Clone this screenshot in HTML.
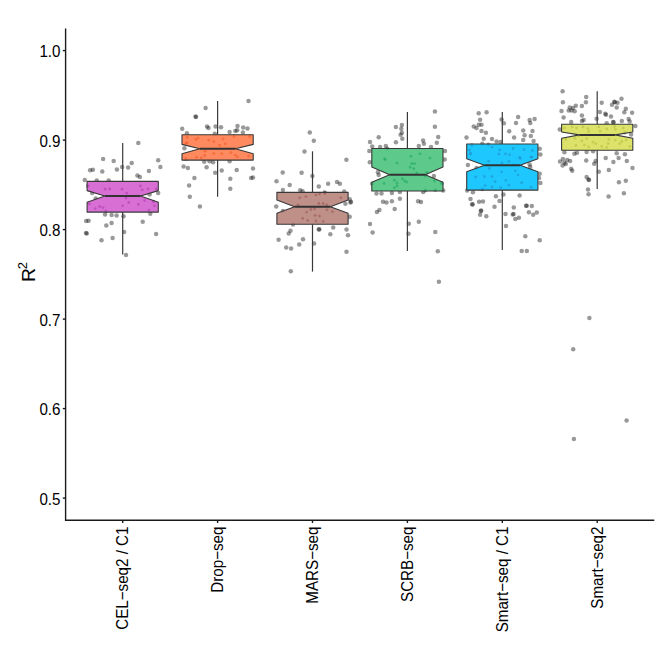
<!DOCTYPE html>
<html><head><meta charset="utf-8"><style>
html,body{margin:0;padding:0;background:#fff;width:662px;height:647px;overflow:hidden}
svg{display:block}
text{font-family:"Liberation Sans",sans-serif;fill:#000}
.yt{font-size:15.8px}
.xt{font-size:16.5px}
.ax{stroke:#1a1a1a;stroke-width:1.4}
.w{stroke:#3a3a3a;stroke-width:1.2}
.bx{stroke:#383838;stroke-width:1.1;stroke-linejoin:round}
.md{stroke:#333;stroke-width:2.0}
.dots circle{fill:#000;fill-opacity:0.40}
</style></head><body>
<svg width="662" height="647" viewBox="0 0 662 647">
<g class="dots">
<circle cx="138.3" cy="142.9" r="2.25"/>
<circle cx="103.1" cy="159.1" r="2.25"/>
<circle cx="113.7" cy="161.1" r="2.25"/>
<circle cx="131.7" cy="163.0" r="2.25"/>
<circle cx="158.2" cy="160.3" r="2.25"/>
<circle cx="160.4" cy="166.9" r="2.25"/>
<circle cx="90.1" cy="170.2" r="2.25"/>
<circle cx="92.9" cy="169.7" r="2.25"/>
<circle cx="102.3" cy="171.5" r="2.25"/>
<circle cx="116.9" cy="169.4" r="2.25"/>
<circle cx="122.1" cy="167.1" r="2.25"/>
<circle cx="128.1" cy="167.4" r="2.25"/>
<circle cx="148.9" cy="170.9" r="2.25"/>
<circle cx="137.4" cy="175.6" r="2.25"/>
<circle cx="139.9" cy="177.0" r="2.25"/>
<circle cx="84.8" cy="180.1" r="2.25"/>
<circle cx="96.8" cy="180.6" r="2.25"/>
<circle cx="108.7" cy="180.6" r="2.25"/>
<circle cx="92.2" cy="193.1" r="2.25"/>
<circle cx="158.2" cy="193.1" r="2.25"/>
<circle cx="149.6" cy="194.6" r="2.25"/>
<circle cx="88.2" cy="186.0" r="2.25"/>
<circle cx="105.1" cy="189.2" r="2.25"/>
<circle cx="109.7" cy="189.0" r="2.25"/>
<circle cx="122.1" cy="189.2" r="2.25"/>
<circle cx="140.3" cy="186.0" r="2.25"/>
<circle cx="142.2" cy="189.8" r="2.25"/>
<circle cx="147.9" cy="188.8" r="2.25"/>
<circle cx="156.1" cy="188.8" r="2.25"/>
<circle cx="126.7" cy="193.1" r="2.25"/>
<circle cx="126.0" cy="198.1" r="2.25"/>
<circle cx="105.1" cy="214.4" r="2.25"/>
<circle cx="111.6" cy="215.1" r="2.25"/>
<circle cx="116.6" cy="215.4" r="2.25"/>
<circle cx="123.5" cy="216.2" r="2.25"/>
<circle cx="150.3" cy="213.7" r="2.25"/>
<circle cx="86.2" cy="221.1" r="2.25"/>
<circle cx="88.6" cy="220.8" r="2.25"/>
<circle cx="106.3" cy="225.4" r="2.25"/>
<circle cx="111.6" cy="223.0" r="2.25"/>
<circle cx="142.7" cy="221.7" r="2.25"/>
<circle cx="86.8" cy="233.5" r="2.25"/>
<circle cx="86.0" cy="233.0" r="2.25"/>
<circle cx="124.1" cy="232.0" r="2.25"/>
<circle cx="156.1" cy="234.0" r="2.25"/>
<circle cx="101.5" cy="240.2" r="2.25"/>
<circle cx="112.6" cy="238.1" r="2.25"/>
<circle cx="126.0" cy="255.0" r="2.25"/>
<circle cx="89.4" cy="203.9" r="2.25"/>
<circle cx="95.1" cy="208.6" r="2.25"/>
<circle cx="99.7" cy="206.5" r="2.25"/>
<circle cx="103.0" cy="207.6" r="2.25"/>
<circle cx="105.9" cy="210.8" r="2.25"/>
<circle cx="122.6" cy="205.8" r="2.25"/>
<circle cx="128.8" cy="202.5" r="2.25"/>
<circle cx="138.4" cy="204.3" r="2.25"/>
<circle cx="144.6" cy="200.5" r="2.25"/>
<circle cx="153.2" cy="201.9" r="2.25"/>
<circle cx="154.6" cy="205.8" r="2.25"/>
<circle cx="148.9" cy="210.1" r="2.25"/>
<circle cx="95.7" cy="198.4" r="2.25"/>
<circle cx="248.5" cy="101.1" r="2.25"/>
<circle cx="205.6" cy="107.9" r="2.25"/>
<circle cx="195.5" cy="116.5" r="2.25"/>
<circle cx="196.0" cy="117.0" r="2.25"/>
<circle cx="182.2" cy="128.7" r="2.25"/>
<circle cx="207.0" cy="126.6" r="2.25"/>
<circle cx="208.5" cy="128.0" r="2.25"/>
<circle cx="215.6" cy="126.6" r="2.25"/>
<circle cx="221.0" cy="127.3" r="2.25"/>
<circle cx="237.5" cy="125.9" r="2.25"/>
<circle cx="243.2" cy="127.6" r="2.25"/>
<circle cx="247.5" cy="128.5" r="2.25"/>
<circle cx="229.6" cy="131.9" r="2.25"/>
<circle cx="235.3" cy="130.9" r="2.25"/>
<circle cx="237.2" cy="130.2" r="2.25"/>
<circle cx="242.9" cy="132.5" r="2.25"/>
<circle cx="186.9" cy="133.3" r="2.25"/>
<circle cx="214.8" cy="133.8" r="2.25"/>
<circle cx="184.4" cy="148.3" r="2.25"/>
<circle cx="187.2" cy="137.4" r="2.25"/>
<circle cx="198.0" cy="138.1" r="2.25"/>
<circle cx="195.8" cy="139.5" r="2.25"/>
<circle cx="208.7" cy="140.2" r="2.25"/>
<circle cx="213.8" cy="141.7" r="2.25"/>
<circle cx="223.1" cy="138.8" r="2.25"/>
<circle cx="233.9" cy="136.6" r="2.25"/>
<circle cx="249.7" cy="136.6" r="2.25"/>
<circle cx="219.5" cy="145.3" r="2.25"/>
<circle cx="225.3" cy="143.8" r="2.25"/>
<circle cx="185.8" cy="143.1" r="2.25"/>
<circle cx="204.2" cy="161.8" r="2.25"/>
<circle cx="209.5" cy="161.2" r="2.25"/>
<circle cx="213.1" cy="162.2" r="2.25"/>
<circle cx="229.6" cy="161.2" r="2.25"/>
<circle cx="183.6" cy="166.5" r="2.25"/>
<circle cx="187.9" cy="168.0" r="2.25"/>
<circle cx="206.6" cy="167.3" r="2.25"/>
<circle cx="221.7" cy="170.4" r="2.25"/>
<circle cx="236.7" cy="170.1" r="2.25"/>
<circle cx="253.0" cy="168.4" r="2.25"/>
<circle cx="215.2" cy="172.7" r="2.25"/>
<circle cx="194.4" cy="178.0" r="2.25"/>
<circle cx="230.3" cy="178.7" r="2.25"/>
<circle cx="251.1" cy="178.0" r="2.25"/>
<circle cx="253.0" cy="177.6" r="2.25"/>
<circle cx="189.1" cy="185.6" r="2.25"/>
<circle cx="230.3" cy="188.8" r="2.25"/>
<circle cx="189.8" cy="196.7" r="2.25"/>
<circle cx="199.9" cy="206.5" r="2.25"/>
<circle cx="185.8" cy="158.7" r="2.25"/>
<circle cx="196.5" cy="157.2" r="2.25"/>
<circle cx="201.3" cy="157.9" r="2.25"/>
<circle cx="204.7" cy="155.5" r="2.25"/>
<circle cx="205.2" cy="151.2" r="2.25"/>
<circle cx="213.8" cy="153.6" r="2.25"/>
<circle cx="221.7" cy="153.6" r="2.25"/>
<circle cx="231.0" cy="152.6" r="2.25"/>
<circle cx="235.3" cy="155.1" r="2.25"/>
<circle cx="237.5" cy="156.9" r="2.25"/>
<circle cx="248.6" cy="156.1" r="2.25"/>
<circle cx="187.2" cy="142.9" r="2.25"/>
<circle cx="309.8" cy="132.5" r="2.25"/>
<circle cx="313.8" cy="140.8" r="2.25"/>
<circle cx="304.5" cy="151.5" r="2.25"/>
<circle cx="346.4" cy="159.7" r="2.25"/>
<circle cx="282.7" cy="172.6" r="2.25"/>
<circle cx="301.6" cy="172.8" r="2.25"/>
<circle cx="312.4" cy="175.9" r="2.25"/>
<circle cx="276.5" cy="181.3" r="2.25"/>
<circle cx="289.7" cy="185.0" r="2.25"/>
<circle cx="318.8" cy="186.4" r="2.25"/>
<circle cx="328.1" cy="183.8" r="2.25"/>
<circle cx="337.0" cy="182.1" r="2.25"/>
<circle cx="339.9" cy="183.8" r="2.25"/>
<circle cx="282.9" cy="189.9" r="2.25"/>
<circle cx="300.2" cy="190.3" r="2.25"/>
<circle cx="302.6" cy="191.3" r="2.25"/>
<circle cx="344.2" cy="191.5" r="2.25"/>
<circle cx="324.6" cy="192.5" r="2.25"/>
<circle cx="276.2" cy="206.4" r="2.25"/>
<circle cx="349.7" cy="199.2" r="2.25"/>
<circle cx="350.4" cy="202.4" r="2.25"/>
<circle cx="351.0" cy="201.8" r="2.25"/>
<circle cx="345.4" cy="203.8" r="2.25"/>
<circle cx="349.7" cy="216.7" r="2.25"/>
<circle cx="293.0" cy="224.6" r="2.25"/>
<circle cx="318.8" cy="229.6" r="2.25"/>
<circle cx="319.3" cy="229.2" r="2.25"/>
<circle cx="333.2" cy="227.5" r="2.25"/>
<circle cx="346.5" cy="229.6" r="2.25"/>
<circle cx="290.5" cy="230.8" r="2.25"/>
<circle cx="288.7" cy="233.6" r="2.25"/>
<circle cx="330.3" cy="234.2" r="2.25"/>
<circle cx="348.0" cy="235.3" r="2.25"/>
<circle cx="299.7" cy="197.8" r="2.25"/>
<circle cx="305.9" cy="196.6" r="2.25"/>
<circle cx="315.9" cy="194.9" r="2.25"/>
<circle cx="319.5" cy="194.0" r="2.25"/>
<circle cx="325.0" cy="193.5" r="2.25"/>
<circle cx="340.8" cy="197.8" r="2.25"/>
<circle cx="318.8" cy="203.5" r="2.25"/>
<circle cx="323.1" cy="203.5" r="2.25"/>
<circle cx="326.7" cy="204.9" r="2.25"/>
<circle cx="298.0" cy="204.9" r="2.25"/>
<circle cx="310.9" cy="209.5" r="2.25"/>
<circle cx="314.5" cy="208.8" r="2.25"/>
<circle cx="306.6" cy="212.1" r="2.25"/>
<circle cx="327.0" cy="209.8" r="2.25"/>
<circle cx="332.5" cy="211.7" r="2.25"/>
<circle cx="282.9" cy="211.0" r="2.25"/>
<circle cx="315.2" cy="215.3" r="2.25"/>
<circle cx="319.5" cy="216.0" r="2.25"/>
<circle cx="302.6" cy="218.4" r="2.25"/>
<circle cx="307.8" cy="220.7" r="2.25"/>
<circle cx="316.0" cy="221.0" r="2.25"/>
<circle cx="323.1" cy="221.3" r="2.25"/>
<circle cx="278.6" cy="239.8" r="2.25"/>
<circle cx="303.0" cy="239.3" r="2.25"/>
<circle cx="299.2" cy="244.4" r="2.25"/>
<circle cx="314.1" cy="243.6" r="2.25"/>
<circle cx="286.2" cy="247.5" r="2.25"/>
<circle cx="291.1" cy="248.4" r="2.25"/>
<circle cx="346.5" cy="251.8" r="2.25"/>
<circle cx="290.8" cy="271.3" r="2.25"/>
<circle cx="434.9" cy="111.5" r="2.25"/>
<circle cx="434.9" cy="126.7" r="2.25"/>
<circle cx="401.9" cy="125.1" r="2.25"/>
<circle cx="395.9" cy="127.0" r="2.25"/>
<circle cx="401.3" cy="128.7" r="2.25"/>
<circle cx="401.9" cy="132.7" r="2.25"/>
<circle cx="400.6" cy="134.7" r="2.25"/>
<circle cx="378.7" cy="137.3" r="2.25"/>
<circle cx="438.2" cy="137.0" r="2.25"/>
<circle cx="402.3" cy="138.7" r="2.25"/>
<circle cx="370.0" cy="141.9" r="2.25"/>
<circle cx="395.9" cy="142.3" r="2.25"/>
<circle cx="423.1" cy="140.5" r="2.25"/>
<circle cx="423.9" cy="143.8" r="2.25"/>
<circle cx="436.8" cy="142.8" r="2.25"/>
<circle cx="372.2" cy="146.6" r="2.25"/>
<circle cx="380.1" cy="147.1" r="2.25"/>
<circle cx="385.8" cy="145.9" r="2.25"/>
<circle cx="418.8" cy="145.9" r="2.25"/>
<circle cx="431.0" cy="147.1" r="2.25"/>
<circle cx="369.3" cy="150.9" r="2.25"/>
<circle cx="445.0" cy="150.9" r="2.25"/>
<circle cx="384.7" cy="158.8" r="2.25"/>
<circle cx="410.9" cy="156.3" r="2.25"/>
<circle cx="420.0" cy="153.8" r="2.25"/>
<circle cx="429.9" cy="158.1" r="2.25"/>
<circle cx="387.3" cy="148.8" r="2.25"/>
<circle cx="369.8" cy="162.2" r="2.25"/>
<circle cx="444.7" cy="159.6" r="2.25"/>
<circle cx="377.9" cy="172.3" r="2.25"/>
<circle cx="378.7" cy="175.1" r="2.25"/>
<circle cx="433.9" cy="175.9" r="2.25"/>
<circle cx="372.2" cy="183.7" r="2.25"/>
<circle cx="443.2" cy="190.6" r="2.25"/>
<circle cx="376.5" cy="193.5" r="2.25"/>
<circle cx="381.5" cy="193.5" r="2.25"/>
<circle cx="391.9" cy="193.1" r="2.25"/>
<circle cx="399.9" cy="192.1" r="2.25"/>
<circle cx="423.1" cy="192.1" r="2.25"/>
<circle cx="383.0" cy="201.7" r="2.25"/>
<circle cx="386.5" cy="202.4" r="2.25"/>
<circle cx="391.9" cy="201.3" r="2.25"/>
<circle cx="399.9" cy="198.8" r="2.25"/>
<circle cx="418.1" cy="201.3" r="2.25"/>
<circle cx="421.0" cy="202.1" r="2.25"/>
<circle cx="385.1" cy="159.6" r="2.25"/>
<circle cx="397.0" cy="162.9" r="2.25"/>
<circle cx="411.7" cy="163.7" r="2.25"/>
<circle cx="414.5" cy="163.7" r="2.25"/>
<circle cx="410.2" cy="167.2" r="2.25"/>
<circle cx="413.8" cy="168.7" r="2.25"/>
<circle cx="416.7" cy="173.0" r="2.25"/>
<circle cx="426.7" cy="172.3" r="2.25"/>
<circle cx="394.4" cy="180.2" r="2.25"/>
<circle cx="397.0" cy="183.0" r="2.25"/>
<circle cx="394.4" cy="187.8" r="2.25"/>
<circle cx="397.0" cy="185.9" r="2.25"/>
<circle cx="384.1" cy="183.5" r="2.25"/>
<circle cx="402.3" cy="178.7" r="2.25"/>
<circle cx="404.5" cy="180.9" r="2.25"/>
<circle cx="406.6" cy="182.0" r="2.25"/>
<circle cx="425.3" cy="175.9" r="2.25"/>
<circle cx="434.6" cy="180.9" r="2.25"/>
<circle cx="441.5" cy="183.5" r="2.25"/>
<circle cx="425.3" cy="190.2" r="2.25"/>
<circle cx="435.3" cy="189.8" r="2.25"/>
<circle cx="376.9" cy="211.9" r="2.25"/>
<circle cx="379.4" cy="210.1" r="2.25"/>
<circle cx="394.7" cy="209.1" r="2.25"/>
<circle cx="370.0" cy="224.0" r="2.25"/>
<circle cx="408.8" cy="223.7" r="2.25"/>
<circle cx="418.8" cy="221.7" r="2.25"/>
<circle cx="372.6" cy="232.6" r="2.25"/>
<circle cx="408.5" cy="233.7" r="2.25"/>
<circle cx="435.3" cy="232.0" r="2.25"/>
<circle cx="437.8" cy="251.3" r="2.25"/>
<circle cx="478.7" cy="113.2" r="2.25"/>
<circle cx="486.6" cy="112.2" r="2.25"/>
<circle cx="518.1" cy="116.9" r="2.25"/>
<circle cx="480.1" cy="119.8" r="2.25"/>
<circle cx="501.6" cy="119.4" r="2.25"/>
<circle cx="503.8" cy="123.2" r="2.25"/>
<circle cx="516.0" cy="123.0" r="2.25"/>
<circle cx="529.6" cy="120.1" r="2.25"/>
<circle cx="530.3" cy="123.0" r="2.25"/>
<circle cx="534.6" cy="118.9" r="2.25"/>
<circle cx="478.7" cy="124.7" r="2.25"/>
<circle cx="481.5" cy="124.7" r="2.25"/>
<circle cx="473.7" cy="126.5" r="2.25"/>
<circle cx="476.5" cy="128.0" r="2.25"/>
<circle cx="481.5" cy="130.9" r="2.25"/>
<circle cx="485.9" cy="132.7" r="2.25"/>
<circle cx="509.2" cy="131.3" r="2.25"/>
<circle cx="523.2" cy="130.4" r="2.25"/>
<circle cx="532.5" cy="130.9" r="2.25"/>
<circle cx="524.6" cy="135.2" r="2.25"/>
<circle cx="530.8" cy="135.9" r="2.25"/>
<circle cx="466.5" cy="137.6" r="2.25"/>
<circle cx="483.7" cy="138.7" r="2.25"/>
<circle cx="492.0" cy="139.0" r="2.25"/>
<circle cx="514.1" cy="137.6" r="2.25"/>
<circle cx="523.2" cy="139.9" r="2.25"/>
<circle cx="533.6" cy="140.9" r="2.25"/>
<circle cx="496.6" cy="141.6" r="2.25"/>
<circle cx="500.6" cy="141.9" r="2.25"/>
<circle cx="482.3" cy="143.8" r="2.25"/>
<circle cx="539.7" cy="148.8" r="2.25"/>
<circle cx="540.4" cy="154.5" r="2.25"/>
<circle cx="471.9" cy="145.6" r="2.25"/>
<circle cx="492.0" cy="147.1" r="2.25"/>
<circle cx="488.3" cy="144.8" r="2.25"/>
<circle cx="499.8" cy="149.9" r="2.25"/>
<circle cx="498.8" cy="154.2" r="2.25"/>
<circle cx="513.1" cy="148.5" r="2.25"/>
<circle cx="523.9" cy="149.5" r="2.25"/>
<circle cx="532.5" cy="150.5" r="2.25"/>
<circle cx="469.4" cy="150.2" r="2.25"/>
<circle cx="470.1" cy="154.2" r="2.25"/>
<circle cx="505.5" cy="153.8" r="2.25"/>
<circle cx="509.5" cy="154.8" r="2.25"/>
<circle cx="519.6" cy="157.4" r="2.25"/>
<circle cx="531.8" cy="157.1" r="2.25"/>
<circle cx="467.9" cy="165.1" r="2.25"/>
<circle cx="529.6" cy="164.4" r="2.25"/>
<circle cx="530.3" cy="166.9" r="2.25"/>
<circle cx="539.7" cy="173.7" r="2.25"/>
<circle cx="540.4" cy="183.0" r="2.25"/>
<circle cx="539.0" cy="178.0" r="2.25"/>
<circle cx="467.2" cy="190.5" r="2.25"/>
<circle cx="472.9" cy="192.3" r="2.25"/>
<circle cx="482.3" cy="189.0" r="2.25"/>
<circle cx="495.9" cy="196.2" r="2.25"/>
<circle cx="503.5" cy="194.5" r="2.25"/>
<circle cx="519.6" cy="195.6" r="2.25"/>
<circle cx="470.5" cy="199.1" r="2.25"/>
<circle cx="472.2" cy="204.2" r="2.25"/>
<circle cx="472.6" cy="204.6" r="2.25"/>
<circle cx="479.1" cy="201.7" r="2.25"/>
<circle cx="483.0" cy="201.4" r="2.25"/>
<circle cx="499.5" cy="201.0" r="2.25"/>
<circle cx="494.5" cy="206.7" r="2.25"/>
<circle cx="513.8" cy="207.4" r="2.25"/>
<circle cx="526.0" cy="205.7" r="2.25"/>
<circle cx="531.8" cy="206.0" r="2.25"/>
<circle cx="488.7" cy="161.2" r="2.25"/>
<circle cx="502.1" cy="162.9" r="2.25"/>
<circle cx="508.8" cy="161.5" r="2.25"/>
<circle cx="513.8" cy="165.1" r="2.25"/>
<circle cx="489.4" cy="168.4" r="2.25"/>
<circle cx="501.6" cy="171.8" r="2.25"/>
<circle cx="515.3" cy="170.8" r="2.25"/>
<circle cx="518.1" cy="175.1" r="2.25"/>
<circle cx="475.8" cy="177.0" r="2.25"/>
<circle cx="484.4" cy="176.5" r="2.25"/>
<circle cx="492.0" cy="176.5" r="2.25"/>
<circle cx="495.2" cy="181.6" r="2.25"/>
<circle cx="505.9" cy="180.4" r="2.25"/>
<circle cx="508.8" cy="185.2" r="2.25"/>
<circle cx="521.7" cy="182.7" r="2.25"/>
<circle cx="485.1" cy="185.6" r="2.25"/>
<circle cx="492.0" cy="187.0" r="2.25"/>
<circle cx="500.6" cy="187.6" r="2.25"/>
<circle cx="531.1" cy="187.3" r="2.25"/>
<circle cx="531.1" cy="157.2" r="2.25"/>
<circle cx="520.3" cy="158.3" r="2.25"/>
<circle cx="470.8" cy="153.2" r="2.25"/>
<circle cx="476.5" cy="167.9" r="2.25"/>
<circle cx="526.8" cy="205.8" r="2.25"/>
<circle cx="480.8" cy="211.1" r="2.25"/>
<circle cx="481.2" cy="210.6" r="2.25"/>
<circle cx="480.1" cy="214.8" r="2.25"/>
<circle cx="486.3" cy="216.2" r="2.25"/>
<circle cx="505.5" cy="214.1" r="2.25"/>
<circle cx="512.7" cy="214.4" r="2.25"/>
<circle cx="513.6" cy="213.9" r="2.25"/>
<circle cx="515.3" cy="219.1" r="2.25"/>
<circle cx="518.9" cy="217.7" r="2.25"/>
<circle cx="528.9" cy="212.2" r="2.25"/>
<circle cx="533.2" cy="214.8" r="2.25"/>
<circle cx="536.8" cy="212.5" r="2.25"/>
<circle cx="506.0" cy="225.9" r="2.25"/>
<circle cx="525.3" cy="236.3" r="2.25"/>
<circle cx="539.7" cy="240.2" r="2.25"/>
<circle cx="521.7" cy="251.0" r="2.25"/>
<circle cx="526.8" cy="251.0" r="2.25"/>
<circle cx="562.6" cy="91.2" r="2.25"/>
<circle cx="586.2" cy="96.9" r="2.25"/>
<circle cx="562.9" cy="102.2" r="2.25"/>
<circle cx="585.9" cy="102.2" r="2.25"/>
<circle cx="621.5" cy="98.7" r="2.25"/>
<circle cx="601.7" cy="102.7" r="2.25"/>
<circle cx="614.3" cy="101.8" r="2.25"/>
<circle cx="614.8" cy="102.2" r="2.25"/>
<circle cx="617.5" cy="102.7" r="2.25"/>
<circle cx="612.0" cy="104.7" r="2.25"/>
<circle cx="575.8" cy="105.8" r="2.25"/>
<circle cx="581.9" cy="106.1" r="2.25"/>
<circle cx="569.8" cy="107.6" r="2.25"/>
<circle cx="573.0" cy="108.0" r="2.25"/>
<circle cx="616.7" cy="107.6" r="2.25"/>
<circle cx="561.5" cy="110.9" r="2.25"/>
<circle cx="568.7" cy="110.4" r="2.25"/>
<circle cx="571.5" cy="110.4" r="2.25"/>
<circle cx="574.7" cy="111.3" r="2.25"/>
<circle cx="625.8" cy="108.7" r="2.25"/>
<circle cx="599.9" cy="111.9" r="2.25"/>
<circle cx="605.3" cy="113.7" r="2.25"/>
<circle cx="606.0" cy="114.7" r="2.25"/>
<circle cx="624.3" cy="112.3" r="2.25"/>
<circle cx="632.1" cy="112.7" r="2.25"/>
<circle cx="581.9" cy="115.6" r="2.25"/>
<circle cx="611.0" cy="116.6" r="2.25"/>
<circle cx="563.6" cy="117.6" r="2.25"/>
<circle cx="596.6" cy="118.7" r="2.25"/>
<circle cx="583.7" cy="119.9" r="2.25"/>
<circle cx="581.9" cy="120.9" r="2.25"/>
<circle cx="571.2" cy="121.9" r="2.25"/>
<circle cx="621.8" cy="120.9" r="2.25"/>
<circle cx="628.6" cy="119.0" r="2.25"/>
<circle cx="629.7" cy="121.6" r="2.25"/>
<circle cx="613.1" cy="121.9" r="2.25"/>
<circle cx="613.6" cy="122.3" r="2.25"/>
<circle cx="606.7" cy="123.3" r="2.25"/>
<circle cx="635.4" cy="125.9" r="2.25"/>
<circle cx="559.8" cy="129.5" r="2.25"/>
<circle cx="631.1" cy="134.4" r="2.25"/>
<circle cx="564.4" cy="152.3" r="2.25"/>
<circle cx="574.4" cy="153.7" r="2.25"/>
<circle cx="577.0" cy="152.7" r="2.25"/>
<circle cx="586.6" cy="151.9" r="2.25"/>
<circle cx="593.1" cy="151.3" r="2.25"/>
<circle cx="616.7" cy="153.3" r="2.25"/>
<circle cx="624.9" cy="154.2" r="2.25"/>
<circle cx="560.0" cy="161.6" r="2.25"/>
<circle cx="562.9" cy="159.0" r="2.25"/>
<circle cx="567.2" cy="159.9" r="2.25"/>
<circle cx="570.1" cy="160.9" r="2.25"/>
<circle cx="564.4" cy="162.8" r="2.25"/>
<circle cx="562.6" cy="165.6" r="2.25"/>
<circle cx="586.2" cy="160.5" r="2.25"/>
<circle cx="595.6" cy="160.9" r="2.25"/>
<circle cx="594.2" cy="163.8" r="2.25"/>
<circle cx="605.7" cy="158.0" r="2.25"/>
<circle cx="618.6" cy="158.0" r="2.25"/>
<circle cx="613.4" cy="161.9" r="2.25"/>
<circle cx="626.8" cy="160.9" r="2.25"/>
<circle cx="632.5" cy="168.1" r="2.25"/>
<circle cx="571.2" cy="168.8" r="2.25"/>
<circle cx="565.8" cy="164.0" r="2.25"/>
<circle cx="564.4" cy="127.9" r="2.25"/>
<circle cx="572.2" cy="126.9" r="2.25"/>
<circle cx="576.6" cy="127.9" r="2.25"/>
<circle cx="583.0" cy="126.9" r="2.25"/>
<circle cx="588.0" cy="128.6" r="2.25"/>
<circle cx="598.8" cy="126.9" r="2.25"/>
<circle cx="606.7" cy="128.9" r="2.25"/>
<circle cx="614.6" cy="126.5" r="2.25"/>
<circle cx="623.2" cy="127.9" r="2.25"/>
<circle cx="615.3" cy="129.3" r="2.25"/>
<circle cx="588.7" cy="131.5" r="2.25"/>
<circle cx="600.2" cy="131.2" r="2.25"/>
<circle cx="624.6" cy="132.2" r="2.25"/>
<circle cx="565.8" cy="139.4" r="2.25"/>
<circle cx="575.1" cy="138.4" r="2.25"/>
<circle cx="581.9" cy="140.8" r="2.25"/>
<circle cx="586.6" cy="138.7" r="2.25"/>
<circle cx="593.1" cy="142.2" r="2.25"/>
<circle cx="595.9" cy="143.7" r="2.25"/>
<circle cx="608.8" cy="139.4" r="2.25"/>
<circle cx="615.3" cy="140.1" r="2.25"/>
<circle cx="621.8" cy="141.5" r="2.25"/>
<circle cx="626.1" cy="140.1" r="2.25"/>
<circle cx="575.8" cy="145.5" r="2.25"/>
<circle cx="584.4" cy="145.1" r="2.25"/>
<circle cx="588.7" cy="147.0" r="2.25"/>
<circle cx="601.7" cy="146.5" r="2.25"/>
<circle cx="606.7" cy="147.3" r="2.25"/>
<circle cx="608.1" cy="143.7" r="2.25"/>
<circle cx="629.7" cy="146.5" r="2.25"/>
<circle cx="619.6" cy="143.7" r="2.25"/>
<circle cx="578.7" cy="135.8" r="2.25"/>
<circle cx="572.2" cy="170.8" r="2.25"/>
<circle cx="598.8" cy="171.8" r="2.25"/>
<circle cx="608.8" cy="170.0" r="2.25"/>
<circle cx="586.6" cy="176.9" r="2.25"/>
<circle cx="588.5" cy="179.4" r="2.25"/>
<circle cx="589.0" cy="179.9" r="2.25"/>
<circle cx="618.9" cy="182.2" r="2.25"/>
<circle cx="625.8" cy="180.8" r="2.25"/>
<circle cx="588.0" cy="189.4" r="2.25"/>
<circle cx="588.5" cy="194.2" r="2.25"/>
<circle cx="623.9" cy="193.3" r="2.25"/>
<circle cx="608.6" cy="196.6" r="2.25"/>
<circle cx="589.4" cy="318.1" r="2.25"/>
<circle cx="573.2" cy="349.2" r="2.25"/>
<circle cx="626.6" cy="420.6" r="2.25"/>
<circle cx="573.9" cy="439.1" r="2.25"/>
<circle cx="438.9" cy="281.8" r="2.25"/>
</g>
<line x1="122.70" y1="143.0" x2="122.70" y2="181.4" class="w"/>
<line x1="122.70" y1="212.1" x2="122.70" y2="254.4" class="w"/>
<clipPath id="c0"><polygon points="87.10,181.40 158.30,181.40 158.30,190.60 140.50,196.00 158.30,202.30 158.30,212.10 87.10,212.10 87.10,202.30 104.90,196.00 87.10,190.60"/></clipPath>
<polygon points="87.10,181.40 158.30,181.40 158.30,190.60 140.50,196.00 158.30,202.30 158.30,212.10 87.10,212.10 87.10,202.30 104.90,196.00 87.10,190.60" fill="#D86FD4"/>
<g clip-path="url(#c0)" fill="#B03CB0" fill-opacity="0.6"><circle cx="84.8" cy="180.1" r="1.4"/><circle cx="96.8" cy="180.6" r="1.4"/><circle cx="108.7" cy="180.6" r="1.4"/><circle cx="92.2" cy="193.1" r="1.4"/><circle cx="158.2" cy="193.1" r="1.4"/><circle cx="149.6" cy="194.6" r="1.4"/><circle cx="88.2" cy="186.0" r="1.4"/><circle cx="105.1" cy="189.2" r="1.4"/><circle cx="109.7" cy="189.0" r="1.4"/><circle cx="122.1" cy="189.2" r="1.4"/><circle cx="140.3" cy="186.0" r="1.4"/><circle cx="142.2" cy="189.8" r="1.4"/><circle cx="147.9" cy="188.8" r="1.4"/><circle cx="156.1" cy="188.8" r="1.4"/><circle cx="126.7" cy="193.1" r="1.4"/><circle cx="126.0" cy="198.1" r="1.4"/><circle cx="105.1" cy="214.4" r="1.4"/><circle cx="150.3" cy="213.7" r="1.4"/><circle cx="89.4" cy="203.9" r="1.4"/><circle cx="95.1" cy="208.6" r="1.4"/><circle cx="99.7" cy="206.5" r="1.4"/><circle cx="103.0" cy="207.6" r="1.4"/><circle cx="105.9" cy="210.8" r="1.4"/><circle cx="122.6" cy="205.8" r="1.4"/><circle cx="128.8" cy="202.5" r="1.4"/><circle cx="138.4" cy="204.3" r="1.4"/><circle cx="144.6" cy="200.5" r="1.4"/><circle cx="153.2" cy="201.9" r="1.4"/><circle cx="154.6" cy="205.8" r="1.4"/><circle cx="148.9" cy="210.1" r="1.4"/><circle cx="95.7" cy="198.4" r="1.4"/></g>
<polygon points="87.10,181.40 158.30,181.40 158.30,190.60 140.50,196.00 158.30,202.30 158.30,212.10 87.10,212.10 87.10,202.30 104.90,196.00 87.10,190.60" fill="none" class="bx"/>
<line x1="104.90" y1="196.0" x2="140.50" y2="196.0" class="md"/>
<line x1="217.60" y1="101.0" x2="217.60" y2="134.7" class="w"/>
<line x1="217.60" y1="160.1" x2="217.60" y2="196.8" class="w"/>
<clipPath id="c1"><polygon points="182.00,134.70 253.20,134.70 253.20,144.40 235.40,148.80 253.20,153.80 253.20,160.10 182.00,160.10 182.00,153.80 199.80,148.80 182.00,144.40"/></clipPath>
<polygon points="182.00,134.70 253.20,134.70 253.20,144.40 235.40,148.80 253.20,153.80 253.20,160.10 182.00,160.10 182.00,153.80 199.80,148.80 182.00,144.40" fill="#FF8A5F"/>
<g clip-path="url(#c1)" fill="#F05A28" fill-opacity="0.6"><circle cx="229.6" cy="131.9" r="1.4"/><circle cx="242.9" cy="132.5" r="1.4"/><circle cx="186.9" cy="133.3" r="1.4"/><circle cx="214.8" cy="133.8" r="1.4"/><circle cx="184.4" cy="148.3" r="1.4"/><circle cx="187.2" cy="137.4" r="1.4"/><circle cx="198.0" cy="138.1" r="1.4"/><circle cx="195.8" cy="139.5" r="1.4"/><circle cx="208.7" cy="140.2" r="1.4"/><circle cx="213.8" cy="141.7" r="1.4"/><circle cx="223.1" cy="138.8" r="1.4"/><circle cx="233.9" cy="136.6" r="1.4"/><circle cx="249.7" cy="136.6" r="1.4"/><circle cx="219.5" cy="145.3" r="1.4"/><circle cx="225.3" cy="143.8" r="1.4"/><circle cx="185.8" cy="143.1" r="1.4"/><circle cx="204.2" cy="161.8" r="1.4"/><circle cx="209.5" cy="161.2" r="1.4"/><circle cx="213.1" cy="162.2" r="1.4"/><circle cx="229.6" cy="161.2" r="1.4"/><circle cx="185.8" cy="158.7" r="1.4"/><circle cx="196.5" cy="157.2" r="1.4"/><circle cx="201.3" cy="157.9" r="1.4"/><circle cx="204.7" cy="155.5" r="1.4"/><circle cx="205.2" cy="151.2" r="1.4"/><circle cx="213.8" cy="153.6" r="1.4"/><circle cx="221.7" cy="153.6" r="1.4"/><circle cx="231.0" cy="152.6" r="1.4"/><circle cx="235.3" cy="155.1" r="1.4"/><circle cx="237.5" cy="156.9" r="1.4"/><circle cx="248.6" cy="156.1" r="1.4"/><circle cx="187.2" cy="142.9" r="1.4"/></g>
<polygon points="182.00,134.70 253.20,134.70 253.20,144.40 235.40,148.80 253.20,153.80 253.20,160.10 182.00,160.10 182.00,153.80 199.80,148.80 182.00,144.40" fill="none" class="bx"/>
<line x1="199.80" y1="148.8" x2="235.40" y2="148.8" class="md"/>
<line x1="312.50" y1="151.3" x2="312.50" y2="192.4" class="w"/>
<line x1="312.50" y1="224.3" x2="312.50" y2="271.6" class="w"/>
<clipPath id="c2"><polygon points="276.90,192.40 348.10,192.40 348.10,200.10 330.30,206.80 348.10,213.30 348.10,224.30 276.90,224.30 276.90,213.30 294.70,206.80 276.90,200.10"/></clipPath>
<polygon points="276.90,192.40 348.10,192.40 348.10,200.10 330.30,206.80 348.10,213.30 348.10,224.30 276.90,224.30 276.90,213.30 294.70,206.80 276.90,200.10" fill="#BF9088"/>
<g clip-path="url(#c2)" fill="#9A5A55" fill-opacity="0.6"><circle cx="282.9" cy="189.9" r="1.4"/><circle cx="300.2" cy="190.3" r="1.4"/><circle cx="302.6" cy="191.3" r="1.4"/><circle cx="344.2" cy="191.5" r="1.4"/><circle cx="324.6" cy="192.5" r="1.4"/><circle cx="276.2" cy="206.4" r="1.4"/><circle cx="349.7" cy="199.2" r="1.4"/><circle cx="350.4" cy="202.4" r="1.4"/><circle cx="351.0" cy="201.8" r="1.4"/><circle cx="345.4" cy="203.8" r="1.4"/><circle cx="349.7" cy="216.7" r="1.4"/><circle cx="293.0" cy="224.6" r="1.4"/><circle cx="299.7" cy="197.8" r="1.4"/><circle cx="305.9" cy="196.6" r="1.4"/><circle cx="315.9" cy="194.9" r="1.4"/><circle cx="319.5" cy="194.0" r="1.4"/><circle cx="325.0" cy="193.5" r="1.4"/><circle cx="340.8" cy="197.8" r="1.4"/><circle cx="318.8" cy="203.5" r="1.4"/><circle cx="323.1" cy="203.5" r="1.4"/><circle cx="326.7" cy="204.9" r="1.4"/><circle cx="298.0" cy="204.9" r="1.4"/><circle cx="310.9" cy="209.5" r="1.4"/><circle cx="314.5" cy="208.8" r="1.4"/><circle cx="306.6" cy="212.1" r="1.4"/><circle cx="327.0" cy="209.8" r="1.4"/><circle cx="332.5" cy="211.7" r="1.4"/><circle cx="282.9" cy="211.0" r="1.4"/><circle cx="315.2" cy="215.3" r="1.4"/><circle cx="319.5" cy="216.0" r="1.4"/><circle cx="302.6" cy="218.4" r="1.4"/><circle cx="307.8" cy="220.7" r="1.4"/><circle cx="316.0" cy="221.0" r="1.4"/><circle cx="323.1" cy="221.3" r="1.4"/></g>
<polygon points="276.90,192.40 348.10,192.40 348.10,200.10 330.30,206.80 348.10,213.30 348.10,224.30 276.90,224.30 276.90,213.30 294.70,206.80 276.90,200.10" fill="none" class="bx"/>
<line x1="294.70" y1="206.8" x2="330.30" y2="206.8" class="md"/>
<line x1="407.40" y1="112.0" x2="407.40" y2="148.5" class="w"/>
<line x1="407.40" y1="191.0" x2="407.40" y2="251.0" class="w"/>
<clipPath id="c3"><polygon points="371.80,148.50 443.00,148.50 443.00,166.90 425.20,174.80 443.00,182.20 443.00,191.00 371.80,191.00 371.80,182.20 389.60,174.80 371.80,166.90"/></clipPath>
<polygon points="371.80,148.50 443.00,148.50 443.00,166.90 425.20,174.80 443.00,182.20 443.00,191.00 371.80,191.00 371.80,182.20 389.60,174.80 371.80,166.90" fill="#5DC98A"/>
<g clip-path="url(#c3)" fill="#20A860" fill-opacity="0.6"><circle cx="372.2" cy="146.6" r="1.4"/><circle cx="380.1" cy="147.1" r="1.4"/><circle cx="385.8" cy="145.9" r="1.4"/><circle cx="418.8" cy="145.9" r="1.4"/><circle cx="431.0" cy="147.1" r="1.4"/><circle cx="369.3" cy="150.9" r="1.4"/><circle cx="445.0" cy="150.9" r="1.4"/><circle cx="384.7" cy="158.8" r="1.4"/><circle cx="410.9" cy="156.3" r="1.4"/><circle cx="420.0" cy="153.8" r="1.4"/><circle cx="429.9" cy="158.1" r="1.4"/><circle cx="387.3" cy="148.8" r="1.4"/><circle cx="369.8" cy="162.2" r="1.4"/><circle cx="444.7" cy="159.6" r="1.4"/><circle cx="377.9" cy="172.3" r="1.4"/><circle cx="378.7" cy="175.1" r="1.4"/><circle cx="433.9" cy="175.9" r="1.4"/><circle cx="372.2" cy="183.7" r="1.4"/><circle cx="443.2" cy="190.6" r="1.4"/><circle cx="376.5" cy="193.5" r="1.4"/><circle cx="381.5" cy="193.5" r="1.4"/><circle cx="391.9" cy="193.1" r="1.4"/><circle cx="399.9" cy="192.1" r="1.4"/><circle cx="423.1" cy="192.1" r="1.4"/><circle cx="385.1" cy="159.6" r="1.4"/><circle cx="397.0" cy="162.9" r="1.4"/><circle cx="411.7" cy="163.7" r="1.4"/><circle cx="414.5" cy="163.7" r="1.4"/><circle cx="410.2" cy="167.2" r="1.4"/><circle cx="413.8" cy="168.7" r="1.4"/><circle cx="416.7" cy="173.0" r="1.4"/><circle cx="426.7" cy="172.3" r="1.4"/><circle cx="394.4" cy="180.2" r="1.4"/><circle cx="397.0" cy="183.0" r="1.4"/><circle cx="394.4" cy="187.8" r="1.4"/><circle cx="397.0" cy="185.9" r="1.4"/><circle cx="384.1" cy="183.5" r="1.4"/><circle cx="402.3" cy="178.7" r="1.4"/><circle cx="404.5" cy="180.9" r="1.4"/><circle cx="406.6" cy="182.0" r="1.4"/><circle cx="425.3" cy="175.9" r="1.4"/><circle cx="434.6" cy="180.9" r="1.4"/><circle cx="441.5" cy="183.5" r="1.4"/><circle cx="425.3" cy="190.2" r="1.4"/><circle cx="435.3" cy="189.8" r="1.4"/></g>
<polygon points="371.80,148.50 443.00,148.50 443.00,166.90 425.20,174.80 443.00,182.20 443.00,191.00 371.80,191.00 371.80,182.20 389.60,174.80 371.80,166.90" fill="none" class="bx"/>
<line x1="389.60" y1="174.8" x2="425.20" y2="174.8" class="md"/>
<line x1="502.30" y1="112.0" x2="502.30" y2="144.0" class="w"/>
<line x1="502.30" y1="190.1" x2="502.30" y2="250.0" class="w"/>
<clipPath id="c4"><polygon points="466.70,144.00 537.90,144.00 537.90,158.80 520.10,165.20 537.90,171.70 537.90,190.10 466.70,190.10 466.70,171.70 484.50,165.20 466.70,158.80"/></clipPath>
<polygon points="466.70,144.00 537.90,144.00 537.90,158.80 520.10,165.20 537.90,171.70 537.90,190.10 466.70,190.10 466.70,171.70 484.50,165.20 466.70,158.80" fill="#1EC8FF"/>
<g clip-path="url(#c4)" fill="#2090C8" fill-opacity="0.6"><circle cx="496.6" cy="141.6" r="1.4"/><circle cx="500.6" cy="141.9" r="1.4"/><circle cx="482.3" cy="143.8" r="1.4"/><circle cx="539.7" cy="148.8" r="1.4"/><circle cx="540.4" cy="154.5" r="1.4"/><circle cx="471.9" cy="145.6" r="1.4"/><circle cx="492.0" cy="147.1" r="1.4"/><circle cx="488.3" cy="144.8" r="1.4"/><circle cx="499.8" cy="149.9" r="1.4"/><circle cx="498.8" cy="154.2" r="1.4"/><circle cx="513.1" cy="148.5" r="1.4"/><circle cx="523.9" cy="149.5" r="1.4"/><circle cx="532.5" cy="150.5" r="1.4"/><circle cx="469.4" cy="150.2" r="1.4"/><circle cx="470.1" cy="154.2" r="1.4"/><circle cx="505.5" cy="153.8" r="1.4"/><circle cx="509.5" cy="154.8" r="1.4"/><circle cx="519.6" cy="157.4" r="1.4"/><circle cx="531.8" cy="157.1" r="1.4"/><circle cx="467.9" cy="165.1" r="1.4"/><circle cx="529.6" cy="164.4" r="1.4"/><circle cx="530.3" cy="166.9" r="1.4"/><circle cx="539.7" cy="173.7" r="1.4"/><circle cx="540.4" cy="183.0" r="1.4"/><circle cx="539.0" cy="178.0" r="1.4"/><circle cx="467.2" cy="190.5" r="1.4"/><circle cx="472.9" cy="192.3" r="1.4"/><circle cx="482.3" cy="189.0" r="1.4"/><circle cx="488.7" cy="161.2" r="1.4"/><circle cx="502.1" cy="162.9" r="1.4"/><circle cx="508.8" cy="161.5" r="1.4"/><circle cx="513.8" cy="165.1" r="1.4"/><circle cx="489.4" cy="168.4" r="1.4"/><circle cx="501.6" cy="171.8" r="1.4"/><circle cx="515.3" cy="170.8" r="1.4"/><circle cx="518.1" cy="175.1" r="1.4"/><circle cx="475.8" cy="177.0" r="1.4"/><circle cx="484.4" cy="176.5" r="1.4"/><circle cx="492.0" cy="176.5" r="1.4"/><circle cx="495.2" cy="181.6" r="1.4"/><circle cx="505.9" cy="180.4" r="1.4"/><circle cx="508.8" cy="185.2" r="1.4"/><circle cx="521.7" cy="182.7" r="1.4"/><circle cx="485.1" cy="185.6" r="1.4"/><circle cx="492.0" cy="187.0" r="1.4"/><circle cx="500.6" cy="187.6" r="1.4"/><circle cx="531.1" cy="187.3" r="1.4"/><circle cx="531.1" cy="157.2" r="1.4"/><circle cx="520.3" cy="158.3" r="1.4"/><circle cx="470.8" cy="153.2" r="1.4"/><circle cx="476.5" cy="167.9" r="1.4"/></g>
<polygon points="466.70,144.00 537.90,144.00 537.90,158.80 520.10,165.20 537.90,171.70 537.90,190.10 466.70,190.10 466.70,171.70 484.50,165.20 466.70,158.80" fill="none" class="bx"/>
<line x1="484.50" y1="165.2" x2="520.10" y2="165.2" class="md"/>
<line x1="597.20" y1="91.2" x2="597.20" y2="124.3" class="w"/>
<line x1="597.20" y1="150.2" x2="597.20" y2="189.0" class="w"/>
<clipPath id="c5"><polygon points="561.60,124.30 632.80,124.30 632.80,132.00 615.00,134.90 632.80,138.20 632.80,150.20 561.60,150.20 561.60,138.20 579.40,134.90 561.60,132.00"/></clipPath>
<polygon points="561.60,124.30 632.80,124.30 632.80,132.00 615.00,134.90 632.80,138.20 632.80,150.20 561.60,150.20 561.60,138.20 579.40,134.90 561.60,132.00" fill="#DDE36A"/>
<g clip-path="url(#c5)" fill="#B8C040" fill-opacity="0.6"><circle cx="571.2" cy="121.9" r="1.4"/><circle cx="629.7" cy="121.6" r="1.4"/><circle cx="613.1" cy="121.9" r="1.4"/><circle cx="613.6" cy="122.3" r="1.4"/><circle cx="606.7" cy="123.3" r="1.4"/><circle cx="635.4" cy="125.9" r="1.4"/><circle cx="559.8" cy="129.5" r="1.4"/><circle cx="631.1" cy="134.4" r="1.4"/><circle cx="564.4" cy="152.3" r="1.4"/><circle cx="577.0" cy="152.7" r="1.4"/><circle cx="586.6" cy="151.9" r="1.4"/><circle cx="593.1" cy="151.3" r="1.4"/><circle cx="564.4" cy="127.9" r="1.4"/><circle cx="572.2" cy="126.9" r="1.4"/><circle cx="576.6" cy="127.9" r="1.4"/><circle cx="583.0" cy="126.9" r="1.4"/><circle cx="588.0" cy="128.6" r="1.4"/><circle cx="598.8" cy="126.9" r="1.4"/><circle cx="606.7" cy="128.9" r="1.4"/><circle cx="614.6" cy="126.5" r="1.4"/><circle cx="623.2" cy="127.9" r="1.4"/><circle cx="615.3" cy="129.3" r="1.4"/><circle cx="588.7" cy="131.5" r="1.4"/><circle cx="600.2" cy="131.2" r="1.4"/><circle cx="624.6" cy="132.2" r="1.4"/><circle cx="565.8" cy="139.4" r="1.4"/><circle cx="575.1" cy="138.4" r="1.4"/><circle cx="581.9" cy="140.8" r="1.4"/><circle cx="586.6" cy="138.7" r="1.4"/><circle cx="593.1" cy="142.2" r="1.4"/><circle cx="595.9" cy="143.7" r="1.4"/><circle cx="608.8" cy="139.4" r="1.4"/><circle cx="615.3" cy="140.1" r="1.4"/><circle cx="621.8" cy="141.5" r="1.4"/><circle cx="626.1" cy="140.1" r="1.4"/><circle cx="575.8" cy="145.5" r="1.4"/><circle cx="584.4" cy="145.1" r="1.4"/><circle cx="588.7" cy="147.0" r="1.4"/><circle cx="601.7" cy="146.5" r="1.4"/><circle cx="606.7" cy="147.3" r="1.4"/><circle cx="608.1" cy="143.7" r="1.4"/><circle cx="629.7" cy="146.5" r="1.4"/><circle cx="619.6" cy="143.7" r="1.4"/><circle cx="578.7" cy="135.8" r="1.4"/></g>
<polygon points="561.60,124.30 632.80,124.30 632.80,132.00 615.00,134.90 632.80,138.20 632.80,150.20 561.60,150.20 561.60,138.20 579.40,134.90 561.60,132.00" fill="none" class="bx"/>
<line x1="579.40" y1="134.9" x2="615.00" y2="134.9" class="md"/>
<path d="M65.6,28.5 V520.2 H654.3" fill="none" class="ax"/>
<line x1="62.8" y1="50.60" x2="65.6" y2="50.60" class="ax"/>
<text transform="translate(60.5,57.20) scale(0.96,1)" class="yt" text-anchor="end">1.0</text>
<line x1="62.8" y1="140.10" x2="65.6" y2="140.10" class="ax"/>
<text transform="translate(60.5,146.70) scale(0.96,1)" class="yt" text-anchor="end">0.9</text>
<line x1="62.8" y1="229.60" x2="65.6" y2="229.60" class="ax"/>
<text transform="translate(60.5,236.20) scale(0.96,1)" class="yt" text-anchor="end">0.8</text>
<line x1="62.8" y1="319.10" x2="65.6" y2="319.10" class="ax"/>
<text transform="translate(60.5,325.70) scale(0.96,1)" class="yt" text-anchor="end">0.7</text>
<line x1="62.8" y1="408.60" x2="65.6" y2="408.60" class="ax"/>
<text transform="translate(60.5,415.20) scale(0.96,1)" class="yt" text-anchor="end">0.6</text>
<line x1="62.8" y1="498.10" x2="65.6" y2="498.10" class="ax"/>
<text transform="translate(60.5,504.70) scale(0.96,1)" class="yt" text-anchor="end">0.5</text>
<line x1="122.70" y1="520.2" x2="122.70" y2="523" class="ax"/>
<text transform="translate(128.30,526.5) rotate(-90) scale(0.92,1)" class="xt" text-anchor="end">CEL−seq2 / C1</text>
<line x1="217.60" y1="520.2" x2="217.60" y2="523" class="ax"/>
<text transform="translate(223.20,526.5) rotate(-90) scale(0.92,1)" class="xt" text-anchor="end">Drop−seq</text>
<line x1="312.50" y1="520.2" x2="312.50" y2="523" class="ax"/>
<text transform="translate(318.10,526.5) rotate(-90) scale(0.92,1)" class="xt" text-anchor="end">MARS−seq</text>
<line x1="407.40" y1="520.2" x2="407.40" y2="523" class="ax"/>
<text transform="translate(413.00,526.5) rotate(-90) scale(0.92,1)" class="xt" text-anchor="end">SCRB−seq</text>
<line x1="502.30" y1="520.2" x2="502.30" y2="523" class="ax"/>
<text transform="translate(507.90,526.5) rotate(-90) scale(0.92,1)" class="xt" text-anchor="end">Smart−seq / C1</text>
<line x1="597.20" y1="520.2" x2="597.20" y2="523" class="ax"/>
<text transform="translate(602.80,526.5) rotate(-90) scale(0.92,1)" class="xt" text-anchor="end">Smart−seq2</text>
<text transform="translate(34.6,282) rotate(-90) scale(1.08,1)" style="font-size:18px">R</text>
<text transform="translate(26.6,269.2) rotate(-90)" style="font-size:13px">2</text>
</svg>
</body></html>
